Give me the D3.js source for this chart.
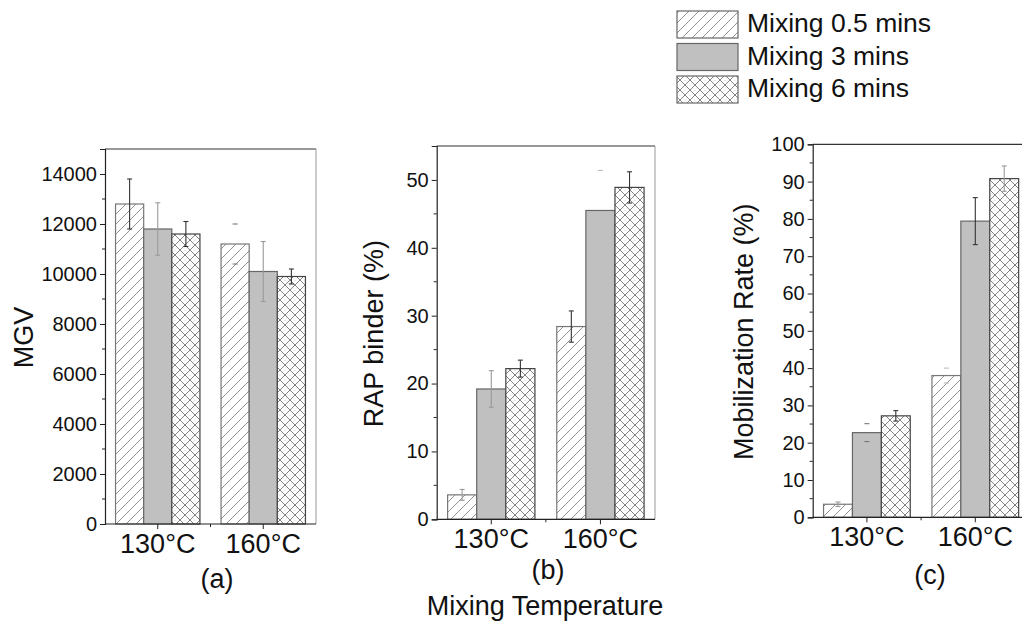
<!DOCTYPE html>
<html><head><meta charset="utf-8">
<script src="https://cdn.jsdelivr.net/npm/d3@7"></script>
<style>
html,body{margin:0;padding:0;background:#fff;}
svg{display:block;font-family:"Liberation Sans",Arial,sans-serif;}
</style></head>
<body>
<svg id="chart" width="1022" height="623"></svg>
<script>
// ---------- data ----------
const categories = ["130°C", "160°C"];
const series = ["Mixing 0.5 mins", "Mixing 3 mins", "Mixing 6 mins"];

// values per category, in series order
const mgvMeans = [[12800, 11800, 11600], [11200, 10100, 9900]];
const mgvErrors = [[1000, 1050, 500], [800, 1200, 300]];

const rapMeans = [[3.6, 19.2, 22.2], [28.4, 45.5, 48.9]];
const rapErrors = [[0.8, 2.7, 1.25], [2.3, 5.9, 2.3]];

const mobMeans = [[3.5, 22.7, 27.2], [38.0, 79.4, 90.8]];
const mobErrors = [[0.6, 2.4, 1.4], [2.0, 6.3, 3.4]];

const mgvTicks = [0, 2000, 4000, 6000, 8000, 10000, 12000, 14000];
const rapTicks = [0, 10, 20, 30, 40, 50];
const mobTicks = [0, 10, 20, 30, 40, 50, 60, 70, 80, 90, 100];

// ---------- styles / layout ----------
const errStyles = {
  d: {line: "#333", cap: "#333"},
  l: {line: "#9a9a9a", cap: "#9a9a9a"},
  c: {line: "none", cap: "#777"},
  w: {line: "none", cap: "#bbb"}
};
const panels = [
  {means: mgvMeans, errors: mgvErrors, ticks: mgvTicks, domain: [0, 15000], minorStep: 1000,
   x0: 105, x1: 316, top: 149, bottom: 524, title: "MGV", titleX: 33, caption: "(a)", capX: 217, capY: 588,
   err: [["d", "l", "d"], ["c", "l", "d"]]},
  {means: rapMeans, errors: rapErrors, ticks: rapTicks, domain: [0, 55], minorStep: 5,
   x0: 436.7, x1: 655, top: 146, bottom: 519.3, title: "RAP binder (%)", titleX: 383, caption: "(b)", capX: 548, capY: 579,
   err: [["l", "l", "d"], ["d", "w", "d"]]},
  {means: mobMeans, errors: mobErrors, ticks: mobTicks, domain: [0, 100], minorStep: 5,
   x0: 812.7, x1: 1029.5, top: 144.3, bottom: 517.3, title: "Mobilization Rate (%)", titleX: 753, caption: "(c)", capX: 930, capY: 584,
   err: [["l", "c", "d"], ["w", "d", "l"]]}
];

const svg = d3.select("#chart");
const defs = svg.append("defs");

// hatch pattern
const ph = defs.append("pattern").attr("id", "hatch").attr("patternUnits", "userSpaceOnUse")
  .attr("width", 10).attr("height", 10);
ph.append("rect").attr("width", 10).attr("height", 10).attr("fill", "#fff");
ph.append("path").attr("d", "M-1,1 L1,-1 M0,10 L10,0 M9,11 L11,9")
  .attr("stroke", "#777").attr("stroke-width", 0.8);

// crosshatch pattern
const pc = defs.append("pattern").attr("id", "cross").attr("patternUnits", "userSpaceOnUse")
  .attr("width", 10).attr("height", 10);
pc.append("rect").attr("width", 10).attr("height", 10).attr("fill", "#fff");
pc.append("path").attr("d", "M5,0 L10,5 M0,5 L5,10 M5,0 L0,5 M10,5 L5,10")
  .attr("stroke", "#dcdcdc").attr("stroke-width", 0.8).attr("stroke-dasharray", "1,1.5");
pc.append("path").attr("d", "M-1,1 L1,-1 M0,10 L10,0 M9,11 L11,9 M-1,9 L1,11 M0,0 L10,10 M9,-1 L11,1")
  .attr("stroke", "#5a5a5a").attr("stroke-width", 0.75);

const fills = ["url(#hatch)", "#c0c0c0", "url(#cross)"];
const strokes = ["#777", "#666", "#444"];

panels.forEach(p => {
  const g = svg.append("g");
  const x = d3.scaleBand().domain(categories).range([p.x0, p.x1]).padding(0);
  const bw = x.bandwidth();
  const xs = d3.scaleBand().domain(series).range([0.1 * bw, 0.9 * bw]).padding(0);
  const y = d3.scaleLinear().domain(p.domain).range([p.bottom, p.top]);

  // frame top/right
  g.append("line").attr("x1", p.x0).attr("x2", p.x1).attr("y1", p.top).attr("y2", p.top)
    .attr("stroke", "#333").attr("stroke-width", 1.2);
  g.append("line").attr("x1", p.x1).attr("x2", p.x1).attr("y1", p.top).attr("y2", p.bottom)
    .attr("stroke", "#999").attr("stroke-width", 1);

  // bars
  categories.forEach((c, ci) => {
    series.forEach((s, si) => {
      const v = p.means[ci][si];
      g.append("rect")
        .attr("x", x(c) + xs(s)).attr("width", xs.bandwidth())
        .attr("y", y(v)).attr("height", y(0) - y(v))
        .attr("fill", fills[si]).attr("stroke", strokes[si]).attr("stroke-width", 1.2);
    });
  });

  // error bars
  categories.forEach((c, ci) => {
    series.forEach((s, si) => {
      const v = p.means[ci][si], e = p.errors[ci][si];
      const st = errStyles[p.err[ci][si]];
      const cx = x(c) + xs(s) + xs.bandwidth() / 2;
      if (st.line !== "none") {
        g.append("line").attr("x1", cx).attr("x2", cx).attr("y1", y(v + e)).attr("y2", y(v - e))
          .attr("stroke", st.line).attr("stroke-width", 1.1);
      }
      [v + e, v - e].forEach(val => {
        g.append("line").attr("x1", cx - 2.5).attr("x2", cx + 2.5).attr("y1", y(val)).attr("y2", y(val))
          .attr("stroke", st.cap).attr("stroke-width", 1.1);
      });
    });
  });

  // y axis
  const ya = d3.axisLeft(y).tickValues(p.ticks).tickSize(5).tickPadding(3).tickFormat(d3.format("d"));
  const yg = g.append("g").attr("transform", `translate(${p.x0},0)`).call(ya);
  yg.select(".domain").attr("stroke", "#222").attr("stroke-width", 1.2);
  yg.selectAll(".tick line").attr("stroke", "#222");
  yg.selectAll("text").attr("font-size", 20).attr("fill", "#111")
    .attr("font-family", "'Liberation Sans',Arial,sans-serif");
  const minor = d3.range(p.domain[0] + p.minorStep, p.domain[1], p.minorStep * 2);
  g.selectAll(null).data(minor).enter().append("line")
    .attr("x1", p.x0 - 3).attr("x2", p.x0).attr("y1", d => y(d)).attr("y2", d => y(d))
    .attr("stroke", "#222");

  // x axis
  const xa = d3.axisBottom(x).tickSize(5).tickPadding(5);
  const xg = g.append("g").attr("transform", `translate(0,${p.bottom})`).call(xa);
  xg.select(".domain").attr("d", `M${p.x0},0H${p.x1}`).attr("stroke", "#222").attr("stroke-width", 1.2);
  xg.selectAll(".tick line").attr("stroke", "#222");
  xg.selectAll("text").attr("font-size", 27).attr("fill", "#111")
    .attr("font-family", "'Liberation Sans',Arial,sans-serif");
  g.append("line").attr("x1", p.x0 + bw).attr("x2", p.x0 + bw).attr("y1", p.bottom).attr("y2", p.bottom + 3)
    .attr("stroke", "#222");

  // y title
  g.append("text").attr("transform", `translate(${p.titleX},${(p.top + p.bottom) / 2 + 1}) rotate(-90)`)
    .attr("text-anchor", "middle").attr("font-size", 27).attr("fill", "#111").text(p.title);

  // caption
  g.append("text").attr("x", p.capX).attr("y", p.capY).attr("text-anchor", "middle")
    .attr("font-size", 27).attr("fill", "#111").text(p.caption);
});

// common x title
svg.append("text").attr("x", 545).attr("y", 615).attr("text-anchor", "middle")
  .attr("font-size", 27).attr("fill", "#111").text("Mixing Temperature");

// legend
const lg = svg.append("g");
series.forEach((s, i) => {
  const yy = 11 + i * 32.5;
  lg.append("rect").attr("x", 677).attr("y", yy).attr("width", 61).attr("height", 27)
    .attr("fill", fills[i]).attr("stroke", "#666").attr("stroke-width", 1.2);
  lg.append("text").attr("x", 747).attr("y", yy + 21).attr("font-size", 26.5).attr("fill", "#111").text(s);
});
</script>
</body></html>
